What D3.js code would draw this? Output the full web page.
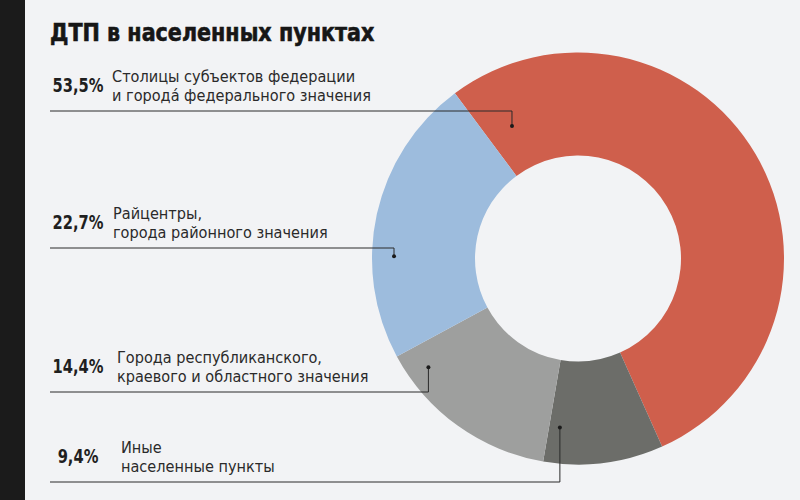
<!DOCTYPE html>
<html>
<head>
<meta charset="utf-8">
<script src="https://cdn.jsdelivr.net/npm/d3@7"></script>
<style>
  html, body { margin: 0; padding: 0; background: #f2f3f5; }
  svg { display: block; }
  .narrow { font-family: "Liberation Sans Narrow", "DejaVu Sans Condensed", "Roboto", sans-serif; }
</style>
</head>
<body>
<svg id="chart"></svg>
<script>
// data
const categories = [
  'Столицы субъектов федерации|и городá федерального значения',
  'Иные|населенные пункты',
  'Города республиканского,|краевого и областного значения',
  'Райцентры,|города районного значения'
];
const shares = [53.5, 9.4, 14.4, 22.7];
const shareLabels = ['53,5%', '9,4%', '14,4%', '22,7%'];
const colors = ['#cf5f4c', '#6c6d69', '#9e9f9e', '#9dbcdd'];

// layout of the callouts (line y, text x, anchor position inside the slice)
const calloutY = [111, 482, 392, 248];
const textX = [112, 121, 117, 113];
const anchorT = [0.053, 0.893, 0.853, 0.356];
const anchorR = [148, 170, 185, 184];

const width = 800, height = 500;
const cx = 578, cy = 258.5, outerR = 206, innerR = 103;

const svg = d3.select('#chart')
  .attr('width', width)
  .attr('height', height);

svg.append('rect')
  .attr('width', width).attr('height', height)
  .attr('fill', '#f2f3f5');

svg.append('rect')
  .attr('x', 0).attr('y', 0)
  .attr('width', 25).attr('height', height)
  .attr('fill', '#1b1b1b');

// squeezed text, the reference uses a condensed face
function squeezed(parent, x, y, sx) {
  return parent.append('g')
    .attr('transform', `translate(${x},${y}) scale(${sx},1)`)
    .append('text')
    .attr('class', 'narrow');
}

squeezed(svg, 50, 41, 0.92)
  .attr('font-size', 25)
  .attr('font-weight', 'bold')
  .attr('fill', '#161616')
  .attr('stroke', '#161616')
  .attr('stroke-width', 0.6)
  .text('ДТП в населенных пунктах');

const start = -36.7 * Math.PI / 180;
const pie = d3.pie().sort(null).value(d => d)
  .startAngle(start).endAngle(start + 2 * Math.PI);
const arcs = pie(shares);

const arc = d3.arc().innerRadius(innerR).outerRadius(outerR);

const g = svg.append('g').attr('transform', `translate(${cx},${cy})`);

g.selectAll('path')
  .data(arcs)
  .enter().append('path')
  .attr('d', arc)
  .attr('fill', (d, i) => colors[i]);

// callouts
arcs.forEach((d, i) => {
  const a = d.startAngle + (d.endAngle - d.startAngle) * anchorT[i];
  const px = cx + anchorR[i] * Math.sin(a);
  const py = cy - anchorR[i] * Math.cos(a);
  const ly = calloutY[i];

  svg.append('path')
    .attr('d', `M50,${ly}H${px}V${py}`)
    .attr('fill', 'none')
    .attr('stroke', '#2a2a2a')
    .attr('stroke-width', 1);

  svg.append('circle')
    .attr('cx', px).attr('cy', py)
    .attr('r', 2)
    .attr('fill', '#1a1a1a');

  squeezed(svg, 78, ly - 19, 0.86)
    .attr('text-anchor', 'middle')
    .attr('font-size', 19)
    .attr('font-weight', 'bold')
    .attr('fill', '#1f1f1f')
    .text(shareLabels[i]);

  const lines = categories[i].split('|');
  lines.forEach((s, k) => {
    squeezed(svg, textX[i], ly - 29.5 + k * 19, 0.99)
      .attr('font-size', 16.3)
      .attr('fill', '#2a2a2a')
      .text(s);
  });
});
</script>
</body>
</html>
